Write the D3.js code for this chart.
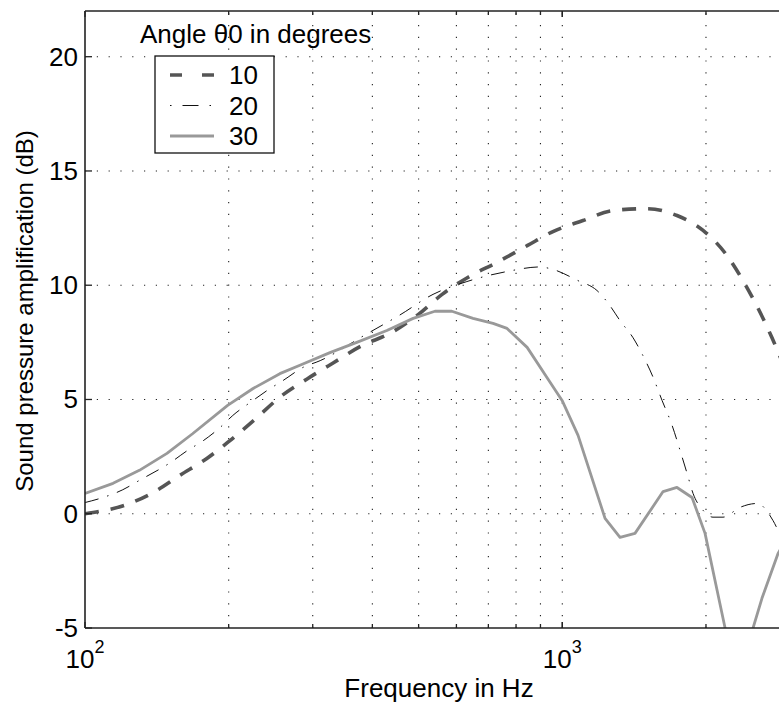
<!DOCTYPE html>
<html>
<head>
<meta charset="utf-8">
<style>
  body { margin: 0; background: #fff; }
  svg text { font-family: "Liberation Sans", Arial, sans-serif; fill: #000; }
</style>
<script src="https://d3js.org/d3.v7.min.js"></script>
</head>
<body>
<script>
// curve for theta0 = 10 degrees
const freq10 = [100, 124, 139, 158, 180, 199, 229, 256, 292, 331, 380, 436, 498, 560, 635, 730, 844, 956, 1105, 1277, 1505, 1739, 1972, 2213, 2391, 2570, 2750, 3000];
const db10   = [0, 0.45, 0.93, 1.68, 2.42, 3.12, 4.2, 5.1, 5.9, 6.6, 7.35, 7.9, 8.7, 9.6, 10.35, 11.0, 11.73, 12.35, 12.83, 13.27, 13.35, 13.05, 12.4, 11.3, 10.2, 9.0, 7.7, 5.8];

// theta0 = 20 degrees
const freq20 = [100, 107.5, 120, 130, 151, 164, 177, 192, 204, 225, 241, 260, 286, 311, 388, 457, 536, 631, 766, 898, 942, 1079, 1182, 1259, 1321, 1407, 1469, 1549, 1618, 1698, 1765, 1826, 1879, 1972, 2069, 2171, 2357, 2558, 2764, 2844, 3000];
const db20   = [0.49, 0.67, 1.05, 1.46, 2.24, 2.77, 3.2, 3.78, 4.3, 4.96, 5.4, 5.83, 6.4, 6.7, 7.85, 8.7, 9.6, 10.16, 10.6, 10.8, 10.73, 10.2, 9.77, 9.1, 8.45, 7.7, 7.0, 5.98, 4.96, 3.87, 2.77, 1.76, 0.89, 0.15, -0.15, -0.15, 0.28, 0.45, -0.3, -0.8, -1.6];

// theta0 = 30 degrees
const freq30 = [100, 114.5, 130, 148.5, 168, 199, 225, 256, 282, 326, 371, 429, 487, 541, 587, 650, 716, 766, 844, 933, 999, 1079, 1229, 1321, 1420, 1626, 1739, 1870, 1991, 2110, 2193, 2350, 2510, 2620, 2830, 3000];
const db30   = [0.89, 1.33, 1.9, 2.64, 3.5, 4.74, 5.48, 6.13, 6.5, 7.05, 7.5, 8.02, 8.55, 8.86, 8.86, 8.55, 8.33, 8.11, 7.28, 5.9, 4.96, 3.43, -0.2, -1.03, -0.86, 0.97, 1.15, 0.71, -0.86, -3.35, -5, -9, -5, -3.7, -1.75, -0.8];

const yTicks = [-5, 0, 5, 10, 15, 20];
const yGrid = [0, 5, 10, 15, 20];
const xGrid = [200, 300, 400, 500, 600, 700, 800, 900, 1000, 2000, 3000];
const xMajor = [100, 1000, 10000];
const legendTitle = "Angle \u03b80 in degrees";
const legendLabels = ["10", "20", "30"];

const W = 779, H = 711;
const plotLeft = 85, plotTop = 11, plotBottom = 628;
const decade = 477.3;

const x = d3.scaleLog().domain([100, 10000]).range([plotLeft, plotLeft + 2 * decade]);
const y = d3.scaleLinear().domain([-5, 22]).range([plotBottom, plotTop]);

const svg = d3.select('body').append('svg')
  .attr('width', W).attr('height', H);

svg.append('rect').attr('width', W).attr('height', H).attr('fill', '#fff');

svg.append('clipPath').attr('id', 'plotclip')
  .append('rect').attr('x', plotLeft).attr('y', plotTop)
  .attr('width', W - plotLeft).attr('height', plotBottom - plotTop);

// grid
const grid = svg.append('g').attr('stroke', '#222').attr('stroke-width', 1.1)
  .attr('stroke-dasharray', '1.2,10.6');
grid.selectAll('.vg').data(xGrid).join('line')
  .attr('x1', d => x(d)).attr('x2', d => x(d))
  .attr('y1', plotBottom).attr('y2', plotTop);
grid.selectAll('.hg').data(yGrid).join('line')
  .attr('x1', plotLeft).attr('x2', W)
  .attr('y1', d => y(d)).attr('y2', d => y(d));

// curves
const series = [
  { f: freq10, v: db10, color: '#555', width: 3.6, dash: '14,12', curve: d3.curveMonotoneX },
  { f: freq20, v: db20, color: '#111', width: 1, dash: '14,9,1.5,9', curve: d3.curveMonotoneX },
  { f: freq30, v: db30, color: '#999', width: 2.8, dash: null, curve: d3.curveLinear }
];

const plot = svg.append('g').attr('clip-path', 'url(#plotclip)');
series.forEach(s => {
  const line = d3.line()
    .x(d => x(d[0])).y(d => y(d[1]))
    .curve(s.curve);
  plot.append('path')
    .datum(d3.zip(s.f, s.v))
    .attr('d', line)
    .attr('fill', 'none')
    .attr('stroke', s.color)
    .attr('stroke-width', s.width)
    .attr('stroke-linejoin', 'round')
    .attr('stroke-dasharray', s.dash);
});

// axes box
const ax = svg.append('g').attr('stroke', '#222').attr('stroke-width', 1.6);
ax.append('line').attr('x1', plotLeft).attr('x2', W).attr('y1', plotBottom).attr('y2', plotBottom);
ax.append('line').attr('x1', plotLeft).attr('x2', W).attr('y1', plotTop).attr('y2', plotTop);
ax.append('line').attr('x1', plotLeft).attr('x2', plotLeft).attr('y1', plotTop).attr('y2', plotBottom);

// ticks (inside)
const tk = svg.append('g').attr('stroke', '#222').attr('stroke-width', 1.3);
tk.selectAll('.yt').data(yTicks).join('line')
  .attr('x1', plotLeft).attr('x2', plotLeft + 7)
  .attr('y1', d => y(d)).attr('y2', d => y(d));
const xAll = xGrid.concat(xMajor);
[plotBottom, plotTop].forEach((yy, i) => {
  const dir = i === 0 ? -1 : 1;
  tk.append('g').selectAll('line').data(xAll).join('line')
    .attr('x1', d => x(d)).attr('x2', d => x(d))
    .attr('y1', yy).attr('y2', d => yy + dir * (xMajor.includes(d) ? 6 : 4));
});

// tick labels
svg.append('g').selectAll('text').data(yTicks).join('text')
  .attr('x', 78).attr('y', d => y(d))
  .attr('text-anchor', 'end').attr('dominant-baseline', 'central')
  .attr('font-size', 26)
  .text(d => d);

const xl = svg.append('g').selectAll('text').data([100, 1000]).join('text')
  .attr('x', d => x(d)).attr('y', 668)
  .attr('text-anchor', 'middle').attr('font-size', 26);
xl.append('tspan').text('10');
xl.append('tspan').attr('dy', -15).attr('font-size', 18).text(d => Math.round(Math.log10(d)));

// axis labels
svg.append('text').attr('x', 439).attr('y', 697)
  .attr('text-anchor', 'middle').attr('font-size', 26)
  .text('Frequency in Hz');
svg.append('text')
  .attr('transform', 'translate(33,311) rotate(-90)')
  .attr('text-anchor', 'middle').attr('font-size', 24)
  .text('Sound pressure amplification (dB)');

// legend
svg.append('text').attr('x', 140).attr('y', 43).attr('font-size', 26).text(legendTitle);
svg.append('rect').attr('x', 155).attr('y', 56).attr('width', 119).attr('height', 97)
  .attr('fill', '#fff').attr('stroke', '#111').attr('stroke-width', 1.3);
const lg = svg.append('g').selectAll('g').data(series).join('g')
  .attr('transform', (d, i) => `translate(0,${75 + i * 30.5})`);
lg.append('line').attr('x1', 170).attr('x2', 214).attr('y1', 0).attr('y2', 0)
  .attr('stroke', d => d.color).attr('stroke-width', d => d.width)
  .attr('stroke-dasharray', (d, i) => i === 0 ? '12,20' : (i === 1 ? '1.5,11,16,11' : null));
lg.append('text').attr('x', 229).attr('y', 0)
  .attr('dominant-baseline', 'central').attr('font-size', 26)
  .text((d, i) => legendLabels[i]);
</script>
</body>
</html>
